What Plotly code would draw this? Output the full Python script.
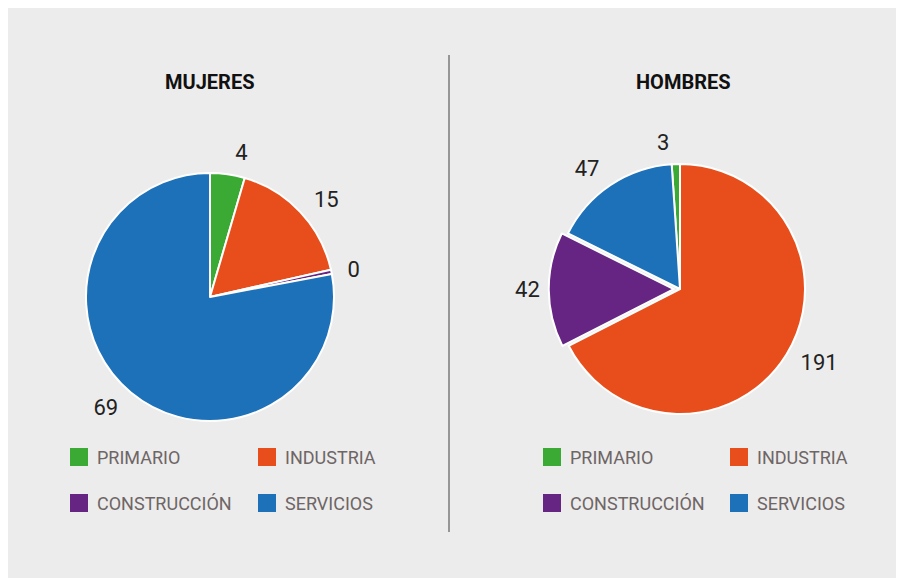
import plotly.graph_objects as go

# ---- data ----
categories = ["PRIMARIO", "INDUSTRIA", "CONSTRUCCIÓN", "SERVICIOS"]
mujeres_values = [4, 15, 0.5, 69]      # construcción shown as 0 (tiny slice)
hombres_values = [3, 191, 42, 47]
chart_titles = ["MUJERES", "HOMBRES"]

# ---- style ----
colors = ["#3aaa35", "#e84e1b", "#662483", "#1d71b8"]
W, H = 904, 578
BG = "#ececec"
FONT = "Roboto"

def dom(cx, cy, half):
    return dict(x=[(cx - half) / W, (cx + half) / W],
                y=[(H - cy - half) / H, (H - cy + half) / H])

fig = go.Figure()

panels = [
    dict(values=mujeres_values, cx=202, cy=289, r=124, pull=[0, 0, 0, 0], rot=0),
    dict(values=hombres_values, cx=672, cy=281, r=125, pull=[0, 0, 0.05, 0],
         rot=-360 * hombres_values[0] / sum(hombres_values)),
]

for p in panels:
    maxpull = max(p["pull"])
    labels_txt = [f"{round(v)}" for v in p["values"]]
    # label ring (transparent) to place value labels a bit outside the pie
    fig.add_trace(go.Pie(
        labels=categories, values=p["values"], sort=False, direction="clockwise",
        rotation=p["rot"], domain=dom(p["cx"], p["cy"], 134),
        marker=dict(colors=["rgba(0,0,0,0)"] * 4, line=dict(width=0)),
        text=labels_txt, textinfo="text", textposition="outside",
        outsidetextfont=dict(family=FONT, size=22, color="#222222"),
        hoverinfo="skip", showlegend=False,
    ))
    fig.add_trace(go.Pie(
        labels=categories, values=p["values"], sort=False, direction="clockwise",
        rotation=p["rot"], domain=dom(p["cx"], p["cy"], p["r"] * (1 + maxpull)),
        pull=p["pull"],
        marker=dict(colors=colors, line=dict(color="white", width=2)),
        textinfo="none", hoverinfo="label+value", showlegend=False,
    ))

shapes = [
    dict(type="line", xref="paper", yref="paper", x0=441 / W, x1=441 / W,
         y0=(H - 524) / H, y1=(H - 47) / H, line=dict(color="#7a7a7a", width=1.5)),
]
annotations = []
for t, cx in zip(chart_titles, [202, 675]):
    annotations.append(dict(text=f"<b>{t}</b>", x=cx / W, y=(H - 74) / H, xref="paper",
                            yref="paper", showarrow=False, xanchor="center", yanchor="middle",
                            font=dict(family=FONT, size=20, color="#111111")))

# custom 2x2 legends
legend_cols = [[62, 250], [535, 722]]
legend_rows = [449, 495]
for cols in legend_cols:
    for i, (cat, col) in enumerate(zip(categories, colors)):
        x0 = cols[i % 2]
        yc = legend_rows[i // 2]
        shapes.append(dict(type="rect", xref="paper", yref="paper",
                           x0=x0 / W, x1=(x0 + 18) / W,
                           y0=(H - yc - 9) / H, y1=(H - yc + 9) / H,
                           fillcolor=col, line=dict(width=0)))
        annotations.append(dict(text=cat, x=(x0 + 25) / W, y=(H - yc) / H,
                                xref="paper", yref="paper", showarrow=False,
                                xanchor="left", yanchor="middle",
                                font=dict(family=FONT, size=18, color="#6e6565")))

fig.update_layout(
    width=W, height=H, margin=dict(l=0, r=0, t=0, b=0),
    paper_bgcolor=BG, plot_bgcolor=BG,
    shapes=shapes, annotations=annotations, showlegend=False,
)
fig.write_html("out.html")
